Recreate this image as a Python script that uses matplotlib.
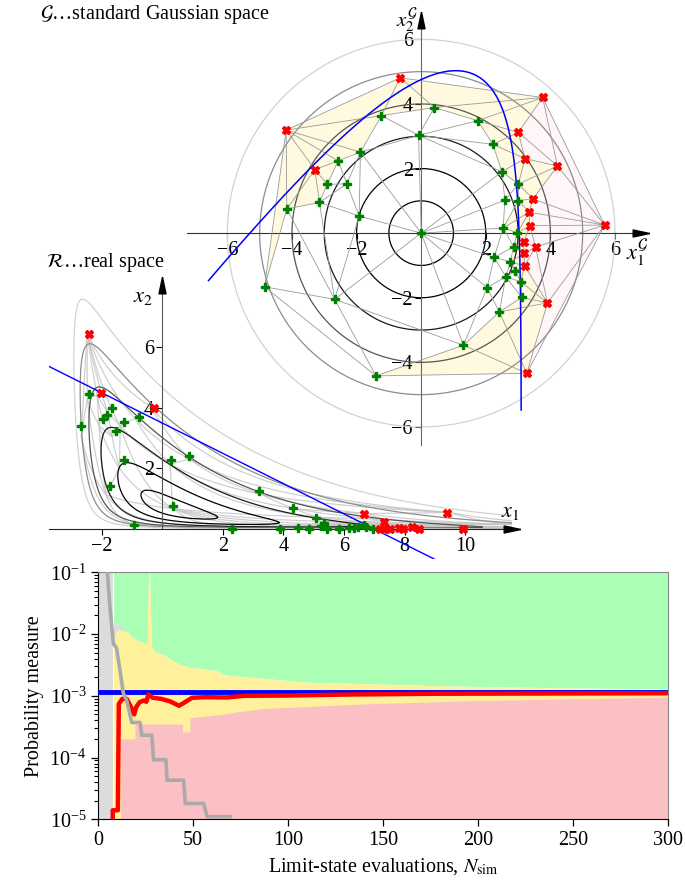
import numpy as np
import matplotlib
matplotlib.use("Agg")
import matplotlib.pyplot as plt
import matplotlib.tri as mtri
from matplotlib.collections import LineCollection, PolyCollection
from matplotlib.path import Path

plt.rcParams['font.family'] = ['Liberation Serif', 'DejaVu Serif']
plt.rcParams['mathtext.fontset'] = 'stix'
plt.rcParams['font.size'] = 14.5

# samples in standard Gaussian space (safe / failed)
g_safe_u1 = [-4.85, -4.16, -3.15, -2.91, -2.68, -2.57, -2.30, -1.92, -1.88, -1.40, -1.23,
             -0.08, 0.0, 0.41, 1.31, 1.75, 2.04, 2.22, 2.26, 2.42, 2.50, 2.54, 2.59, 2.62,
             2.76, 2.86, 2.91, 2.98, 3.01, 3.01, 3.09, 3.11]
g_safe_u2 = [-1.66, 0.75, 0.95, 1.51, -2.05, 2.24, 1.53, 0.53, 2.51, -4.42, 3.64,
             3.03, 0.0, 3.89, -3.47, 3.48, -1.69, 2.75, -0.75, -2.44, 1.90, 0.16, 1.02, -1.35,
             -0.89, -0.42, -1.18, 0.01, 1.52, 1.01, -1.51, -1.99]
g_fail_u1 = [-4.18, -3.29, -0.65, 3.01, 3.17, 3.19, 3.20, 3.21, 3.27, 3.34, 3.37, 3.46,
             3.54, 3.76, 3.91, 4.22, 5.68]
g_fail_u2 = [3.19, 1.97, 4.81, 3.12, -0.28, -0.63, -1.01, 2.31, -4.34, 0.65, 0.23, 1.06,
             -0.43, 4.20, -2.16, 2.08, 0.25]

# the same samples in real space
r_safe_x1 = [-2.42, -2.67, -1.67, -1.83, -1.95, -1.25, -0.77, -1.51, -1.26, 0.28, 0.88,
             -1.72, 0.36, -0.92, 3.19, 4.33, 5.09, 5.34, 5.23, 2.29, 3.89, 4.47, 4.86,
             5.43, 5.83, 6.17, 6.33, 6.47, 6.66, 6.73, 6.95]
r_safe_x2 = [4.46, 3.39, 3.99, 3.77, 3.62, 3.52, 3.71, 3.25, 2.27, 2.29, 2.42,
             1.42, 0.77, 0.15, 1.25, 0.70, 0.36, 0.19, 0.10, 0.0, 0.0, 0.04, 0.0,
             0.0, 0.0, 0.02, 0.02, 0.06, 0.14, 0.07, 0.0]
r_fail_x1 = [-2.41, -2.02, -0.28, 6.67, 9.40, 7.33, 7.19, 7.33, 7.52, 7.80, 7.94, 8.23,
             8.47, 9.94]
r_fail_x2 = [6.45, 4.50, 3.98, 0.49, 0.52, 0.24, 0.01, 0.01, 0.01, 0.04, 0.0, 0.06,
             0.0, 0.0]

radii = [1, 2, 3, 4, 5, 6]
radius_colors = ['k', 'k', '#1a1a1a', '#555555', '#8c8c8c', '#d2d2d2']

# limit state in real space: x1 + 2 x2 = 7
ls_a, ls_b, ls_c = 1.0, 2.0, 7.0

# convergence history
nsim_pf = [7.6, 7.6, 10.3, 10.8, 12.6, 15.0, 17.2, 18.9, 20.0, 21.8, 24.1, 25.3, 26.4,
           28.7, 33.3, 37.9, 42.5, 44.8, 49.4, 56.3, 67.8, 77, 100, 132, 178, 240, 300]
pf_est = [8e-6, 1.4e-5, 1.4e-5, 7.4e-4, 8.9e-4, 8.9e-4, 6.6e-4, 5.0e-4, 6.6e-4, 7.9e-4,
          8.4e-4, 8.0e-4, 1.05e-3, 9.3e-4, 8.9e-4, 8.1e-4, 6.9e-4, 7.6e-4, 9.3e-4, 9.5e-4,
          9.4e-4, 1.0e-3, 1.01e-3, 1.05e-3, 1.08e-3, 1.09e-3, 1.1e-3]
nsim_unc = [4.6, 6.1, 7.9, 9.6, 11.4, 13.2, 14.9, 17.6, 22.0, 22.9, 28.2, 29.1, 35.6,
            36.2, 44.9, 45.8, 55.5, 57.3, 69.3]
pf_unc = [1.2e-1, 2.8e-2, 7.1e-3, 5.9e-3, 2.6e-3, 1.1e-3, 8.5e-4, 3.7e-4, 3.7e-4, 2.3e-4,
          2.3e-4, 9.2e-5, 9.2e-5, 4.3e-5, 4.3e-5, 1.8e-5, 1.8e-5, 1.1e-5, 1.1e-5]
nsim_up = [8.0, 10, 12, 15, 17.3, 20.3, 24, 25.8, 26.5, 27.0, 28.0, 28.8, 34.3, 38.6, 43,
           50, 53.5, 59, 62, 65.8, 71, 88.6, 109.6, 141, 185, 229, 300]
pf_up = [9.1e-3, 1.17e-2, 1.17e-2, 1.1e-2, 9e-3, 8.0e-3, 7.2e-3, 6.8e-3, 1e-1, 1e-1,
         6.2e-3, 5.5e-3, 4.6e-3, 3.8e-3, 3.2e-3, 2.8e-3, 2.8e-3, 2.6e-3, 2.6e-3, 2.2e-3,
         2.1e-3, 1.9e-3, 1.66e-3, 1.57e-3, 1.44e-3, 1.37e-3, 1.29e-3]
nsim_lo = [8.0, 11.8, 11.8, 19.3, 19.3, 44.4, 44.4, 48.2, 48.2, 53.5, 69.3, 71, 88.6,
           106, 141, 194, 247, 300]
pf_lo = [1e-6, 1e-6, 2.0e-4, 2.0e-4, 3.5e-4, 3.5e-4, 2.6e-4, 2.6e-4, 4.4e-4, 4.6e-4,
         5.2e-4, 5.4e-4, 6.3e-4, 6.6e-4, 7.4e-4, 8.3e-4, 8.9e-4, 9.5e-4]
pf_exact = 1.14e-3


def to_real(u1, u2):
    # shifted lognormal x1, x2 conditioned through a smooth positive map
    x1 = -3.46 + 3.82 * np.exp(0.325 * u1)
    w = -0.80 * u1 + 0.64 * u2
    x2 = 1.84 * np.log1p(np.exp(0.8 * w - 0.81))
    return x1, x2


def limit_state(x1, x2):
    return ls_c - ls_a * x1 - ls_b * x2


arrow_r = Path([(1, 0), (-1, 0.42), (-1, -0.42), (1, 0)])
arrow_u = Path([(0, 1), (0.42, -1), (-0.42, -1), (0, 1)])

fig = plt.figure(figsize=(6.85, 8.92), dpi=100)

# ---------------- Gaussian space ----------------
ax_g = fig.add_axes([0.273, 0.5011, 0.6625, 0.4765])
ax_g.set_xlim(-7.25, 6.8)
ax_g.set_ylim(-6.56, 6.6)
ax_g.patch.set_alpha(0)

u_all = np.r_[g_safe_u1, g_fail_u1]
v_all = np.r_[g_safe_u2, g_fail_u2]
failed = np.r_[np.zeros(len(g_safe_u1), bool), np.ones(len(g_fail_u1), bool)]
tri = mtri.Triangulation(u_all, v_all)

polys, fcols = [], []
for t in tri.triangles:
    nf = failed[t].sum()
    if nf == 0:
        continue
    polys.append(np.c_[u_all[t], v_all[t]])
    fcols.append((1.0, 0.94, 0.65, 0.35) if nf < 3 else (1.0, 0.85, 0.85, 0.2))
ax_g.add_collection(PolyCollection(polys, facecolors=fcols, edgecolors='none', zorder=1))

th = np.linspace(0, 2 * np.pi, 400)
for r, c in zip(radii, radius_colors):
    ax_g.plot(r * np.cos(th), r * np.sin(th), color=c, lw=0.9, zorder=2)

ax_g.triplot(tri, color='#9a9a9a', lw=0.6, zorder=3)

gu1, gu2 = np.meshgrid(np.linspace(-6.6, 6.8, 500), np.linspace(-5.5, 6.5, 500))
ax_g.contour(gu1, gu2, limit_state(*to_real(gu1, gu2)), levels=[0], colors='b',
             linewidths=1.1, zorder=4)

ax_g.plot(g_safe_u1, g_safe_u2, 'P', color='green', ms=5.5, mec='green', zorder=5)
ax_g.plot(g_fail_u1, g_fail_u2, 'X', color='red', ms=5.5, mec='red', zorder=5)

for side in ['top', 'right']:
    ax_g.spines[side].set_visible(False)
ax_g.spines['left'].set_position('zero')
ax_g.spines['bottom'].set_position('zero')
ax_g.spines['left'].set_color('#666666')
ax_g.spines['bottom'].set_color('#333333')
ax_g.set_xticks([-6, -4, -2, 2, 4, 6])
ax_g.set_yticks([-6, -4, -2, 2, 4, 6])
ax_g.tick_params(direction='out', length=4, width=0.8, pad=2)
ax_g.plot([1], [0], marker=arrow_r, ms=12, color='k', transform=ax_g.get_yaxis_transform(),
          clip_on=False, zorder=6)
ax_g.plot([0], [1], marker=arrow_u, ms=12, color='k', transform=ax_g.get_xaxis_transform(),
          clip_on=False, zorder=6)
ax_g.text(6.35, -0.15, r'$x_1^{\mathcal{G}}$', ha='left', va='top', fontsize=16)
ax_g.text(-0.12, 6.6, r'$x_2^{\mathcal{G}}$', ha='right', va='center', fontsize=15)
fig.text(40 / 685, 1 - 14 / 892, r'$\mathcal{G}$' + '\u2026standard Gaussian space',
         ha='left', va='center', fontsize=14.5)

# ---------------- real space ----------------
ax_r = fig.add_axes([0.0709, 0.3729, 0.6768, 0.3074])
ax_r.set_xlim(-3.75, 11.55)
ax_r.set_ylim(-1.0, 8.05)
ax_r.patch.set_alpha(0)

segs = []
tt = np.linspace(0, 1, 60)
for a, b in tri.edges:
    eu1 = u_all[a] + tt * (u_all[b] - u_all[a])
    eu2 = v_all[a] + tt * (v_all[b] - v_all[a])
    segs.append(np.c_[to_real(eu1, eu2)])
ax_r.add_collection(LineCollection(segs, colors='#c4c4c4', linewidths=0.9, alpha=0.8, zorder=1))

th = np.linspace(0, 2 * np.pi, 1500)
for r, c in zip(radii, radius_colors):
    cx1, cx2 = to_real(r * np.cos(th), r * np.sin(th))
    ax_r.plot(cx1, cx2, color=c, lw=0.9, zorder=2)

lx = np.array([-3.75, 9.5])
ax_r.plot(lx, (ls_c - ls_a * lx) / ls_b, color='b', lw=1.0, zorder=4)

ax_r.plot(r_safe_x1, r_safe_x2, 'P', color='green', ms=5.5, mec='green', zorder=5)
ax_r.plot(r_fail_x1, r_fail_x2, 'X', color='red', ms=5.5, mec='red', zorder=5)

for side in ['top', 'right']:
    ax_r.spines[side].set_visible(False)
ax_r.spines['left'].set_position('zero')
ax_r.spines['bottom'].set_position('zero')
ax_r.spines['left'].set_bounds(0, 8.05)
ax_r.spines['left'].set_color('#555555')
ax_r.spines['bottom'].set_color('#222222')
ax_r.set_xticks([-2, 2, 4, 6, 8, 10])
ax_r.set_yticks([2, 4, 6])
ax_r.tick_params(direction='out', length=4, width=0.8, pad=2)
ax_r.plot([1], [0], marker=arrow_r, ms=12, color='k', transform=ax_r.get_yaxis_transform(),
          clip_on=False, zorder=6)
ax_r.plot([0], [1], marker=arrow_u, ms=12, color='k', transform=ax_r.get_xaxis_transform(),
          clip_on=False, zorder=6)
ax_r.text(11.5, 0.25, r'$x_1$', ha='center', va='bottom', fontsize=16)
ax_r.text(-0.3, 7.95, r'$x_2$', ha='right', va='top', fontsize=16)
fig.text(46 / 685, 1 - 262 / 892, r'$\mathcal{R}$' + '\u2026real space',
         ha='left', va='center', fontsize=14.5)

# ---------------- convergence ----------------
ax_p = fig.add_axes([0.1435, 0.0815, 0.8317, 0.2769])
ax_p.set_yscale('log')
ax_p.set_xlim(0, 300)
ax_p.set_ylim(1e-5, 1e-1)

ax_p.fill_between(nsim_up, pf_up, 1e-1, color='#aaffb4', lw=0, zorder=1)
ax_p.fill_between(nsim_up, 1e-6, pf_up, color='#fff09c', lw=0, zorder=1)
ax_p.fill_between(nsim_lo, 1e-6, pf_lo, color='#fbc0c4', lw=0, zorder=2)
ax_p.fill_between([8.0, 10, 12, 14], [9.1e-3, 1.17e-2, 1.17e-2, 1.1e-2],
                  [1.5e-2, 1.5e-2, 1.3e-2, 1.1e-2], color='#dcdcdc', lw=0, zorder=2)
ax_p.axvspan(0, 8.0, color='#dcdcdc', lw=0, zorder=2)
ax_p.axhline(pf_exact, color='b', lw=3.5, zorder=3)
ax_p.plot(nsim_pf, pf_est, color='r', lw=3.2, zorder=4, solid_joinstyle='round')
ax_p.plot(nsim_unc, pf_unc, color='#aaaaaa', lw=2.6, zorder=5)

ax_p.set_xticks(np.arange(0, 301, 50))
ax_p.set_yticks([1e-5, 1e-4, 1e-3, 1e-2, 1e-1])
ax_p.tick_params(direction='out', length=5, width=0.9)
ax_p.tick_params(which='minor', direction='out', length=3, width=0.8)
ax_p.spines['top'].set_color('#888888')
ax_p.spines['right'].set_color('#888888')
ax_p.set_ylabel('Probability measure')
ax_p.set_xlabel(r'Limit-state evaluations, $N_{\mathrm{sim}}$')

fig.savefig('out.png', dpi=100)
